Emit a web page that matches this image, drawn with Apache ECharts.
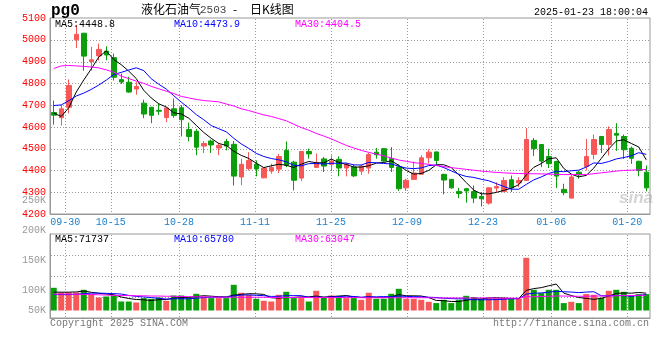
<!DOCTYPE html>
<html><head><meta charset="utf-8">
<script src="https://cdn.jsdelivr.net/npm/echarts/dist/echarts.min.js"></script>
<style>html,body{margin:0;padding:0;background:#fff}#c{width:660px;height:360px}</style>
</head><body><div id="c"></div>
<script>
const dates = ['09-26','09-27','09-30','10-08','10-09','10-10','10-11','10-14','10-15','10-16',
'10-17','10-18','10-21','10-22','10-23','10-24','10-25','10-28','10-29','10-30',
'10-31','11-01','11-04','11-05','11-06','11-07','11-08','11-11','11-12','11-13',
'11-14','11-15','11-18','11-19','11-20','11-21','11-22','11-25','11-26','11-27',
'11-28','11-29','12-02','12-03','12-04','12-05','12-06','12-09','12-10','12-11',
'12-12','12-13','12-16','12-17','12-18','12-19','12-20','12-23','12-24','12-25',
'12-26','12-27','12-30','12-31','01-02','01-03','01-06','01-07','01-08','01-09',
'01-10','01-13','01-14','01-15','01-16','01-17','01-20','01-21','01-22','01-23'];
const xTickLabels = ['09-30','10-15','10-28','11-11','11-25','12-09','12-23','01-06','01-20'];
const priceTicks = [4200,4300,4400,4500,4600,4700,4800,4900,5000,5100];
const volLabelTicks = [50,100,150,200,250];
const volFrameTicks = [1,2,3];

const opens = [4666,4642,4690,5000,5030,4900,4926,4948,4918,4817,
4805,4774,4709,4690,4676,4643,4683,4688,4588,4580,
4512,4535,4503,4533,4520,4370,4408,4428,4366,4397,
4406,4492,4438,4365,4487,4414,4453,4428,4451,4411,
4416,4397,4411,4484,4500,4454,4416,4320,4359,4382,
4458,4485,4382,4359,4303,4316,4303,4281,4250,4319,
4303,4357,4343,4354,4538,4519,4464,4441,4313,4273,
4392,4418,4474,4556,4519,4570,4556,4502,4442,4392];
const closes = [4654,4683,4790,5025,4925,4908,4956,4930,4828,4806,
4760,4786,4659,4653,4672,4687,4652,4633,4556,4507,
4524,4517,4515,4512,4374,4428,4446,4407,4411,4414,
4464,4424,4355,4487,4476,4435,4420,4443,4411,4428,
4375,4420,4473,4472,4443,4414,4316,4355,4388,4458,
4484,4446,4356,4320,4294,4306,4273,4270,4320,4326,
4354,4320,4354,4542,4500,4443,4431,4374,4298,4370,
4380,4464,4542,4519,4588,4562,4495,4456,4400,4320];
const lows = [4610,4606,4662,4962,4858,4858,4905,4906,4813,4797,
4757,4748,4640,4617,4655,4622,4642,4556,4534,4470,
4480,4480,4470,4492,4331,4332,4400,4373,4364,4385,
4388,4415,4308,4351,4454,4412,4393,4397,4373,4373,
4370,4380,4385,4454,4440,4393,4306,4306,4358,4380,
4432,4428,4290,4316,4273,4252,4250,4235,4243,4301,
4300,4301,4323,4352,4466,4415,4411,4319,4286,4272,
4362,4400,4451,4480,4469,4490,4453,4430,4373,4304];
const highs = [4721,4700,4818,5068,5032,4968,4982,4970,4936,4845,
4830,4805,4725,4692,4708,4690,4730,4700,4620,4590,
4535,4542,4527,4545,4535,4454,4484,4446,4414,4431,
4476,4533,4444,4488,4500,4478,4462,4469,4465,4434,
4428,4426,4481,4503,4502,4507,4428,4362,4441,4469,
4497,4487,4385,4360,4320,4320,4331,4301,4323,4346,
4369,4377,4369,4594,4549,4521,4499,4445,4339,4382,
4398,4545,4565,4558,4602,4617,4565,4510,4445,4423];

const ma5 = [4663,4648,4688,4760,4815.4,4866.2,4920.8,4948.8,4909.4,4885.6,
4856,4822,4767.8,4732.8,4706,4691.4,4664.6,4659.4,4640,4607,
4574.4,4547.4,4523.8,4515,4488.4,4469.2,4455,4433.4,4413.2,4421.2,
4428.4,4424,4413.6,4428.8,4441.2,4435.4,4434.6,4452.2,4437,4427.4,
4415.4,4415.4,4421.4,4433.6,4436.6,4444.4,4423.6,4400,4383.2,4386.2,
4400.2,4426.2,4426.4,4412.8,4380,4344.4,4309.8,4292.6,4292.6,4299,
4308.6,4318,4334.8,4379.2,4414,4431.8,4454,4458,4409.2,4383.2,
4370.6,4377.2,4410.8,4455,4498.6,4535,4541.2,4524,4507.8,4448.8];
const ma10 = [4698,4701,4720,4742,4755,4772,4792,4815,4840,4850.5,
4861.1,4871.4,4858.3,4821.1,4795.8,4773.7,4743.3,4713.6,4686.4,4656.5,
4632.9,4606,4591.6,4577.5,4547.7,4521.8,4501.2,4478.6,4464.1,4454.8,
4448.8,4439.5,4423.5,4421,4431.2,4431.9,4429.3,4432.9,4432.9,4434.3,
4425.4,4425,4436.8,4435.3,4432,4429.9,4419.5,4410.7,4408.4,4411.4,
4422.3,4424.9,4413.2,4398,4383.1,4372.3,4368,4359.5,4352.7,4339.5,
4326.5,4313.9,4313.7,4335.9,4356.5,4370.2,4386,4396.4,4394.2,4398.6,
4401.2,4415.6,4434.4,4432.1,4440.9,4452.8,4459.2,4467.4,4481.4,4473.9];
const ma30 = [4868,4880,4882,4880,4878,4875,4871,4862,4851,4833,
4822,4810,4800,4786,4775,4764,4753,4740,4733,4726,
4721,4718,4715,4705,4696,4683,4675,4665,4655,4648,
4638,4628,4612,4597,4585,4570,4558,4545,4530,4515,
4503,4492,4483,4475,4467,4457,4448,4442,4436,4432,
4428,4423,4418,4413,4409,4405,4401,4397,4394,4391,
4389,4387,4386,4385,4385,4384,4383,4382,4381,4381,
4381,4381,4385,4389,4393,4397,4400,4401,4403,4404.5];

// volumes in thousands (K)
const volumes = [94.1,74.6,74.6,74.6,85.8,68.0,53.9,58.0,62.2,37.3,
37.3,33.2,51.4,48.5,53.9,40.2,62.2,62.2,55.5,69.2,
58.0,51.4,51.4,51.4,106.5,73.4,65.1,48.5,40.2,37.3,
65.1,77.5,51.4,51.4,37.3,81.7,55.5,62.2,60.9,51.4,
51.4,44.4,73.4,48.5,48.5,69.2,89.9,48.5,48.5,44.4,
36.1,30.7,44.4,30.7,44.4,60.9,55.5,48.5,49.7,49.7,
52.6,47.3,49.7,218.4,85.8,72.1,85.8,85.8,30.7,36.1,
30.7,68.0,65.1,52.6,81.7,85.8,77.5,60.9,68.0,68.0];
const vma5 = [76,76,76,77,80.7,75.5,71.4,68.1,65.6,55.9,
49.7,45.6,44.3,41.5,44.9,45.4,51.2,53.4,54.8,57.9,
61.4,59.3,57.1,56.3,63.7,66.8,69.6,69.0,66.7,52.9,
51.2,53.7,54.3,56.5,56.5,59.9,55.5,57.6,59.5,62.3,
56.3,54.1,56.3,53.8,53.2,56.8,65.9,60.9,60.9,60.1,
53.5,41.6,40.8,37.3,37.3,42.2,47.2,48.0,51.8,52.9,
51.2,49.6,49.8,83.5,90.8,94.7,102.4,109.6,72.0,62.1,
53.8,50.3,46.1,50.5,59.6,70.6,72.5,71.7,74.8,71.737];
const vma10 = [66,66,66,67,70,72,72,71,70,68.3,
62.6,58.5,56.2,53.6,50.4,47.6,48.4,48.8,48.2,51.4,
53.4,55.3,55.3,55.5,60.8,64.1,64.4,63.0,61.5,58.3,
59.0,61.6,61.6,61.6,54.7,55.6,54.6,56.0,58.0,59.4,
58.1,54.8,57.0,56.7,57.8,56.5,60.0,58.6,57.4,56.7,
55.1,53.8,50.9,49.1,48.7,47.9,44.4,44.4,44.5,45.1,
46.7,48.4,48.9,67.7,71.8,72.9,76.0,79.7,77.8,76.4,
74.2,76.3,77.9,61.3,60.9,62.2,61.4,58.9,62.6,65.78];
const vma30 = [68,68,68,67,67,66,65,64,63,62,
62,61,61,60,60,59,59,58,57,57,
56,56,55,55,55,55,55,55,55,54,
54,54,54,54,54,54,54,54,54,54,
54,53,53,53,53,53,53,53,53,53,
53,52,52,52,52,52,52,52,52,51,
51,51,51,57,57,58,59,60,60,59,
59,59,60,60,60,61,62,62,63,63.047];

const priceLegend = ['MA5:4448.8','MA10:4473.9','MA30:4404.5'];
const volLegend = ['MA5:71737','MA10:65780','MA30:63047'];
const titleParts = ['液化石油气','2503','-','日K线图'];
const symbolText = 'pg0';
const timeText = '2025-01-23 18:00:04';

const MONO = '"Liberation Mono","DejaVu Sans Mono",monospace';
const RED = '#f65858', GREEN = '#0a9e0a';
const DOTC = '#999';
const isTick = (i, v) => xTickLabels.indexOf(v) >= 0;

// Dotted grid line drawn as 1px dots (every 3px), placed through the axis scale.
const dot = (x, y) => ({type:'rect', shape:{x:x, y:y, width:1, height:1}, style:{fill:DOTC}, silent:true});
const hLine = (params, api) => {
  const cs = params.coordSys;
  const y = Math.round(api.coord([0, api.value(1)])[1]);
  const children = [];
  for (let x = Math.round(cs.x) + 1; x < cs.x + cs.width; x += 3) children.push(dot(x, y));
  return {type:'group', children:children};
};
const vLine = (params, api) => {
  const cs = params.coordSys;
  const x = Math.round(api.coord([api.value(0), 0])[0]);
  const children = [];
  for (let y = Math.round(cs.y) + 1; y < cs.y + cs.height; y += 3) children.push(dot(x, y));
  return {type:'group', children:children};
};

const chart = echarts.init(document.getElementById('c'), null, {renderer:'canvas', width:660, height:360});
const txt = (x, y, text, color, opts) => Object.assign({
  type:'text', x:x, y:y, silent:true, z:100,
  style:Object.assign({text:text, fill:color, font:'10px ' + MONO, textAlign:'left', align:'left', textVerticalAlign:'middle', verticalAlign:'middle'}, (opts||{}))
});

chart.setOption({
  animation:false,
  grid:[
    {left:50, top:18, width:600, height:196, show:true, borderColor:'#999', borderWidth:1},
    {left:50, top:234, width:600, height:84, show:true, borderColor:'#999', borderWidth:1},
    {left:50, top:234, width:600, height:76.5},
    {left:50, top:200, width:600, height:120}
  ],
  xAxis:[
    {type:'category', gridIndex:0, data:dates, boundaryGap:false, position:'bottom',
      axisLine:{show:true, lineStyle:{color:'#999', width:1}}, axisTick:{show:false},
      axisLabel:{interval:isTick, color:'#1a80d0', fontFamily:MONO, fontSize:10, margin:3},
      splitLine:{show:false}},
    {type:'category', gridIndex:0, data:dates, boundaryGap:true, show:false},
    {type:'category', gridIndex:1, data:dates, boundaryGap:false, position:'bottom',
      axisLine:{show:true, lineStyle:{color:'#999'}}, axisTick:{show:false}, axisLabel:{show:false},
      splitLine:{show:false}},
    {type:'category', gridIndex:2, data:dates, boundaryGap:true, show:false},
    {type:'category', gridIndex:3, data:dates, show:false}
  ],
  yAxis:[
    {type:'value', gridIndex:0, min:priceTicks[0], max:priceTicks[priceTicks.length-1], interval:100,
      axisLine:{show:true, lineStyle:{color:'#999'}}, axisTick:{show:false},
      axisLabel:{color:'#f00', fontFamily:MONO, fontSize:10, margin:4, padding:[0,0,4,0], formatter:v => String(v)},
      splitLine:{show:false}},
    {type:'value', gridIndex:1, min:0, max:4, interval:1,
      axisLine:{show:true, lineStyle:{color:'#999'}}, axisTick:{show:false}, axisLabel:{show:false},
      splitLine:{show:false}},
    {type:'value', gridIndex:2, min:0, max:317.1, show:false, splitLine:{show:false}},
    {type:'value', gridIndex:3, min:volLabelTicks[0], max:volLabelTicks[volLabelTicks.length-1], interval:50,
      axisLine:{show:false}, axisTick:{show:false}, splitLine:{show:false},
      axisLabel:{color:'#999', fontFamily:MONO, fontSize:10, margin:4,
        formatter:v => v === 50 ? '{lo|50K}' : v + 'K',
        rich:{lo:{color:'#999', fontFamily:MONO, fontSize:10, padding:[0,0,20,0]}}}}
  ],
  series:[
    {type:'custom', xAxisIndex:0, yAxisIndex:0, z:1, silent:true, clip:false,
      data:priceTicks.slice(1, -1).map(v => [0, v]), renderItem:hLine},
    {type:'custom', xAxisIndex:0, yAxisIndex:0, z:1, silent:true, clip:false,
      data:xTickLabels.map(d => [d, priceTicks[0]]), renderItem:vLine},
    {type:'custom', xAxisIndex:2, yAxisIndex:1, z:1, silent:true, clip:false,
      data:volFrameTicks.map(v => [0, v]), renderItem:hLine},
    {type:'custom', xAxisIndex:2, yAxisIndex:1, z:1, silent:true, clip:false,
      data:xTickLabels.map(d => [d, 0]), renderItem:vLine},
    {type:'candlestick', xAxisIndex:1, yAxisIndex:0, barWidth:5, silent:true, z:3,
      data:dates.map((d,i)=>[opens[i], closes[i], lows[i], highs[i]]),
      itemStyle:{color:RED, color0:GREEN, borderColor:RED, borderColor0:GREEN, borderWidth:1}},
    {type:'line', xAxisIndex:1, yAxisIndex:0, data:ma5, symbol:'none', silent:true, lineStyle:{color:'#000', width:1}, z:5},
    {type:'line', xAxisIndex:1, yAxisIndex:0, data:ma10, symbol:'none', silent:true, lineStyle:{color:'#0000ff', width:1}, z:5},
    {type:'line', xAxisIndex:1, yAxisIndex:0, data:ma30, symbol:'none', silent:true, lineStyle:{color:'#ff00ff', width:1}, z:5},
    {type:'bar', xAxisIndex:3, yAxisIndex:2, barWidth:6, silent:true, z:3,
      data:volumes.map((v,i)=>({value:v, itemStyle:{color: closes[i] >= opens[i] ? RED : GREEN}}))},
    {type:'line', xAxisIndex:3, yAxisIndex:2, data:vma5, symbol:'none', silent:true, lineStyle:{color:'#000', width:1}, z:5},
    {type:'line', xAxisIndex:3, yAxisIndex:2, data:vma10, symbol:'none', silent:true, lineStyle:{color:'#0000ff', width:1}, z:5},
    {type:'line', xAxisIndex:3, yAxisIndex:2, data:vma30, symbol:'none', silent:true, lineStyle:{color:'#ff00ff', width:1}, z:5}
  ],
  graphic:[
    txt(51, 11, symbolText, '#000', {font:'bold 16px ' + MONO}),
    txt(141, 9, titleParts[0], '#000', {font:'12px "Noto Sans CJK SC"'}),
    txt(200, 10, titleParts[1], '#444', {font:'11px ' + MONO}),
    txt(233, 9, titleParts[2], '#000', {font:'12px "Noto Sans CJK SC"'}),
    txt(250, 9, titleParts[3], '#000', {font:'12px "Noto Sans CJK SC"'}),
    txt(648, 12, timeText, '#000', {textAlign:'right', align:'right'}),
    txt(55, 24, priceLegend[0], '#000'),
    txt(174, 24, priceLegend[1], '#0000ff'),
    txt(295, 24, priceLegend[2], '#ff00ff'),
    txt(55, 239, volLegend[0], '#000'),
    txt(174, 239, volLegend[1], '#0000ff'),
    txt(295, 239, volLegend[2], '#ff00ff'),
    txt(50, 323, 'Copyright 2025 SINA.COM', '#777'),
    txt(649, 323, 'http://finance.sina.com.cn', '#777', {textAlign:'right', align:'right'}),
    txt(619, 198, 'sina', 'rgba(160,160,160,0.45)', {font:'italic bold 17px "Liberation Sans"'})
  ]
});
</script>
</body></html>
